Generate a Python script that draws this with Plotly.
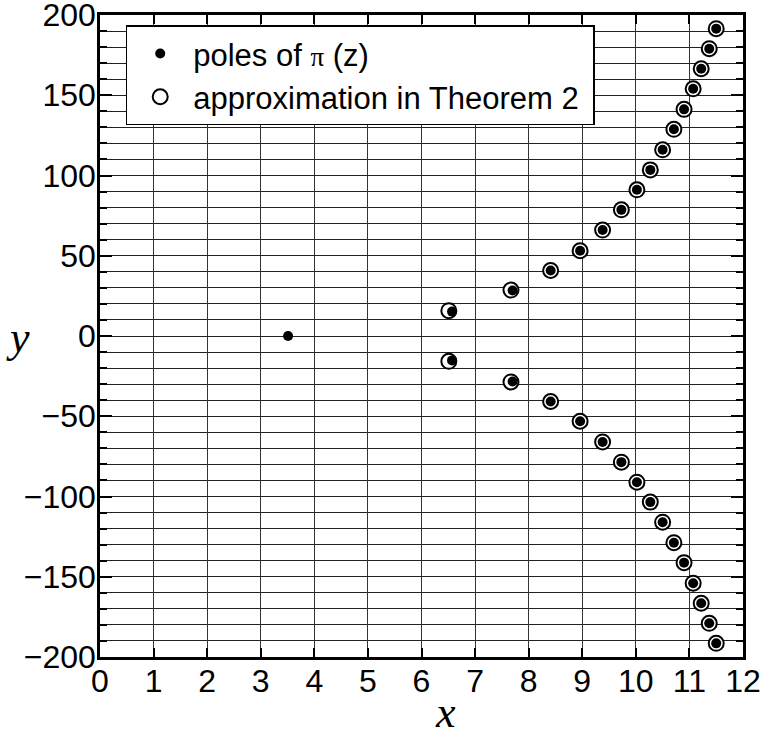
import plotly.graph_objects as go

# Poles of pi(z) (filled dots)
poles_x = [3.51,
           6.57, 7.70, 8.41, 8.96, 9.38, 9.73, 10.02, 10.27, 10.50, 10.71, 10.90, 11.07, 11.22, 11.37, 11.50,
           6.57, 7.70, 8.41, 8.96, 9.38, 9.73, 10.02, 10.27, 10.50, 10.71, 10.90, 11.07, 11.22, 11.37, 11.50]
poles_y = [0.0,
           15.2, 28.4, 40.8, 53.1, 66.0, 78.6, 91.1, 103.5, 116.0, 128.8, 141.2, 154.0, 166.5, 179.0, 191.5,
           -15.2, -28.4, -40.8, -53.1, -66.0, -78.6, -91.1, -103.5, -116.0, -128.8, -141.2, -154.0, -166.5, -179.0, -191.5]

# Approximation in Theorem 2 (open circles)
approx_x = [6.51, 7.67, 8.41, 8.96, 9.38, 9.73, 10.02, 10.27, 10.50, 10.71, 10.90, 11.07, 11.22, 11.37, 11.50,
            6.51, 7.67, 8.41, 8.96, 9.38, 9.73, 10.02, 10.27, 10.50, 10.71, 10.90, 11.07, 11.22, 11.37, 11.50]
approx_y = [15.8, 28.6, 40.8, 53.1, 66.0, 78.6, 91.1, 103.5, 116.0, 128.8, 141.2, 154.0, 166.5, 179.0, 191.5,
            -15.8, -28.6, -40.8, -53.1, -66.0, -78.6, -91.1, -103.5, -116.0, -128.8, -141.2, -154.0, -166.5, -179.0, -191.5]

x_ticks = list(range(0, 13))
y_ticks = [-200, -150, -100, -50, 0, 50, 100, 150, 200]
y_tick_labels = ["\u2212200", "\u2212150", "\u2212100", "\u221250", "0", "50", "100", "150", "200"]

SANS = "Liberation Sans, Arial, sans-serif"
SERIF = "Liberation Serif, Times New Roman, serif"

fig = go.Figure()
fig.add_trace(go.Scatter(
    x=approx_x, y=approx_y, mode="markers",
    name="approximation in Theorem 2\u00a0",
    marker=dict(symbol="circle", size=15, color="white", line=dict(color="black", width=2)),
))
fig.add_trace(go.Scatter(
    x=poles_x, y=poles_y, mode="markers",
    name="poles of <span style='font-family:Liberation Serif;font-size:27px'>\u03c0</span> (z)",
    marker=dict(symbol="circle", size=10, color="black"),
))

fig.update_layout(
    width=761, height=737,
    margin=dict(l=100, r=18, t=15, b=80, autoexpand=False),
    plot_bgcolor="white", paper_bgcolor="white",
    font=dict(family=SANS, size=32, color="black"),
    showlegend=True,
    legend=dict(
        x=0.04, y=0.984, xanchor="left", yanchor="top",
        bgcolor="white", bordercolor="black", borderwidth=1.5,
        font=dict(family=SANS, size=31, color="black"),
        traceorder="reversed",
        itemwidth=56,
    ),
    xaxis=dict(
        range=[0, 12], tickvals=x_ticks, ticktext=[str(v) for v in x_ticks],
        ticks="inside", ticklen=9, tickwidth=2, tickcolor="black",
        showline=True, linewidth=2.5, linecolor="black", mirror="allticks",
        showgrid=True, gridcolor="#333333", gridwidth=1,
        zeroline=False, automargin=False,
        tickfont=dict(family=SANS, size=32),
        ticklabelstandoff=-6, ticklabeloverflow="allow",
    ),
    yaxis=dict(
        range=[-200, 200], tickvals=y_ticks, ticktext=y_tick_labels,
        ticks="inside", ticklen=12, tickwidth=2, tickcolor="black",
        showline=True, linewidth=2.5, linecolor="black", mirror="allticks",
        showgrid=True, gridcolor="#222222", gridwidth=1,
        zeroline=False, automargin=False,
        tickfont=dict(family=SANS, size=32),
        ticklabelstandoff=-5, ticklabeloverflow="allow",
        minor=dict(dtick=10, tick0=0, showgrid=True, gridcolor="#222222", gridwidth=1,
                   ticks="inside", ticklen=7, tickwidth=2, tickcolor="black"),
    ),
    annotations=[
        dict(text="<i>x</i>", xref="paper", yref="paper", x=0.537, y=-0.086,
             showarrow=False, font=dict(family=SERIF, size=44, color="black"),
             xanchor="center", yanchor="middle"),
        dict(text="<i>y</i>", xref="paper", yref="paper", x=-0.128, y=0.498,
             showarrow=False, font=dict(family=SERIF, size=44, color="black"),
             xanchor="center", yanchor="middle"),
    ],
)

fig.write_html("out.html",
               config={"displayModeBar": False},
               post_script="document.body.style.margin='0';document.body.style.padding='0';document.body.style.overflow='hidden';")
